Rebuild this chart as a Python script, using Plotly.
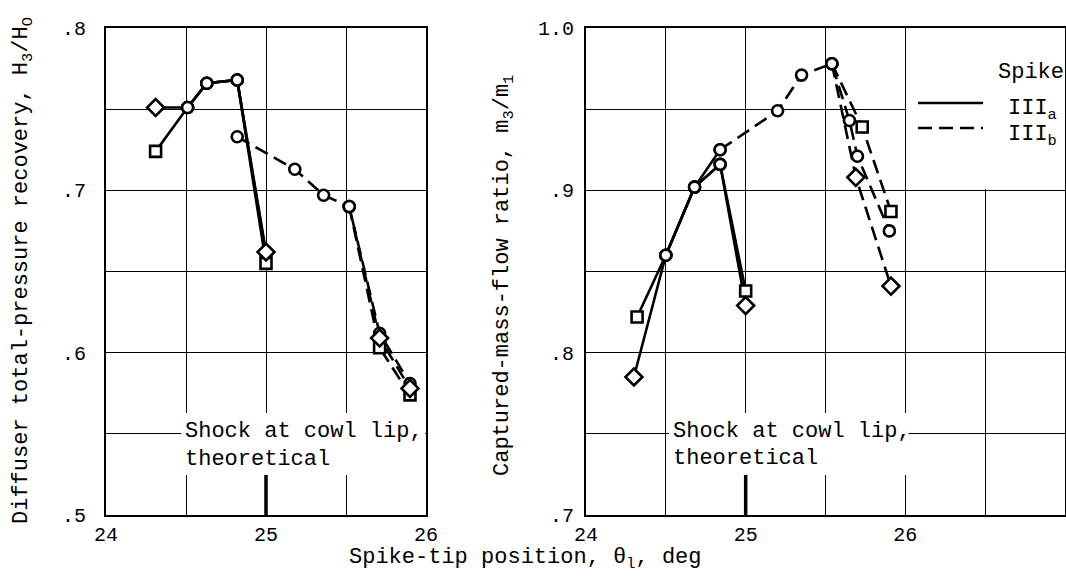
import plotly.graph_objects as go

# ---------------- data ----------------
# Left panel: diffuser total-pressure recovery H3/H0 vs spike-tip position
L_a_circ_x = [24.51, 24.63, 24.82, 25.00]
L_a_circ_y = [0.751, 0.766, 0.768, 0.660]
L_a_sq_x = [24.31, 24.51, 24.63, 24.82, 25.00]
L_a_sq_y = [0.724, 0.751, 0.766, 0.768, 0.655]
L_a_dia_x = [24.31, 24.51, 24.63, 24.82, 25.00]
L_a_dia_y = [0.751, 0.751, 0.766, 0.768, 0.662]

L_b_circ_x = [24.82, 25.18, 25.36, 25.52, 25.71, 25.90]
L_b_circ_y = [0.733, 0.713, 0.697, 0.690, 0.612, 0.581]
L_b_sq_x = [25.52, 25.71, 25.90]
L_b_sq_y = [0.690, 0.603, 0.574]
L_b_dia_x = [25.52, 25.71, 25.90]
L_b_dia_y = [0.690, 0.609, 0.578]

# Right panel: captured-mass-flow ratio m3/m1 vs spike-tip position
R_a_circ_x = [24.50, 24.68, 24.84]
R_a_circ_y = [0.860, 0.902, 0.925]
R_a_sq_x = [24.32, 24.50, 24.68, 24.84, 25.00]
R_a_sq_y = [0.822, 0.860, 0.902, 0.916, 0.838]
R_a_dia_x = [24.30, 24.50, 24.68, 24.84, 25.00]
R_a_dia_y = [0.785, 0.860, 0.902, 0.916, 0.829]

R_b_circ_x = [24.84, 25.20, 25.35, 25.54, 25.65, 25.70, 25.90]
R_b_circ_y = [0.925, 0.949, 0.971, 0.978, 0.943, 0.921, 0.875]
R_b_sq_x = [25.54, 25.73, 25.91]
R_b_sq_y = [0.978, 0.939, 0.887]
R_b_dia_x = [25.54, 25.69, 25.91]
R_b_dia_y = [0.978, 0.908, 0.841]

# tick labels
L_xticks = [24, 24.5, 25, 25.5, 26]
L_xtext = ["24", "", "25", "", "26"]
R_xticks = [24, 24.5, 25, 25.5, 26, 26.5, 27]
R_xtext = ["24", "", "25", "", "26", "", ""]
L_yticks = [0.5, 0.55, 0.6, 0.65, 0.7, 0.75, 0.8]
L_ytext = [".5", "", ".6", "", ".7", "", ".8"]
R_yticks = [0.7, 0.75, 0.8, 0.85, 0.9, 0.95, 1.0]
R_ytext = [".7", "", ".8", "", ".9", "", "1.0"]

THEORY_X = 25.0  # shock at cowl lip, theoretical

# ---------------- style ----------------
FONT = "Courier New, Liberation Mono, monospace"
W, H = 1066, 580
DASH = "14px,7px"
LW = 2.6


def px(xp):
    return xp / W


def py(yp):
    return 1 - yp / H


fig = go.Figure()

series = [
    # (x, y, symbols, dash, xaxis, yaxis)
    (L_a_circ_x, L_a_circ_y, ["circle"] * 4, "solid", "x", "y"),
    (L_a_sq_x, L_a_sq_y, ["square", "circle", "circle", "circle", "square"], "solid", "x", "y"),
    (L_a_dia_x, L_a_dia_y, ["diamond", "circle", "circle", "circle", "diamond"], "solid", "x", "y"),
    (L_b_circ_x, L_b_circ_y, ["circle"] * 6, DASH, "x", "y"),
    (L_b_sq_x, L_b_sq_y, ["circle", "square", "square"], DASH, "x", "y"),
    (L_b_dia_x, L_b_dia_y, ["circle", "diamond", "diamond"], DASH, "x", "y"),
    (R_a_circ_x, R_a_circ_y, ["circle"] * 3, "solid", "x2", "y2"),
    (R_a_sq_x, R_a_sq_y, ["square", "circle", "circle", "circle", "square"], "solid", "x2", "y2"),
    (R_a_dia_x, R_a_dia_y, ["diamond", "circle", "circle", "circle", "diamond"], "solid", "x2", "y2"),
    (R_b_circ_x, R_b_circ_y, ["circle"] * 7, DASH, "x2", "y2"),
    (R_b_sq_x, R_b_sq_y, ["circle", "square", "square"], DASH, "x2", "y2"),
    (R_b_dia_x, R_b_dia_y, ["circle", "diamond", "diamond"], DASH, "x2", "y2"),
]

# lines first
for xs, ys, syms, dash, xa, ya in series:
    fig.add_trace(go.Scatter(x=xs, y=ys, mode="lines", xaxis=xa, yaxis=ya,
                             line=dict(color="black", width=LW, dash=dash),
                             showlegend=False, hoverinfo="skip"))
# then markers (open, white-filled)
for xs, ys, syms, dash, xa, ya in series:
    sizes = [13 if s == "diamond" else 11 for s in syms]
    fig.add_trace(go.Scatter(x=xs, y=ys, mode="markers", xaxis=xa, yaxis=ya,
                             marker=dict(symbol=syms, size=sizes, color="white", opacity=1,
                                         line=dict(color="black", width=2.6)),
                             showlegend=False))

axis_common = dict(showgrid=True, gridcolor="black", gridwidth=1.2, zeroline=False,
                   showline=True, mirror=True, linecolor="black", linewidth=2,
                   automargin=False,
                   tickfont=dict(family=FONT, size=20, color="black"))

fig.update_layout(
    width=W, height=H,
    margin=dict(l=0, r=0, t=0, b=0, autoexpand=False),
    paper_bgcolor="white", plot_bgcolor="white",
    showlegend=False,
    xaxis=dict(domain=[px(106), px(426)], range=[24, 26], tickvals=L_xticks, ticktext=L_xtext,
               ticks="", anchor="y", **axis_common),
    yaxis=dict(domain=[py(515), py(28)], range=[0.5, 0.8], tickvals=L_yticks, ticktext=L_ytext,
               ticks="outside", ticklen=14, tickcolor="rgba(0,0,0,0)", anchor="x", **axis_common),
    xaxis2=dict(domain=[px(586), px(1065)], range=[24, 27], tickvals=R_xticks, ticktext=R_xtext,
                ticks="", anchor="y2", **axis_common),
    yaxis2=dict(domain=[py(515), py(28)], range=[0.7, 1.0], tickvals=R_yticks, ticktext=R_ytext,
                ticks="outside", ticklen=6, tickcolor="rgba(0,0,0,0)", anchor="x2", **axis_common),
)

shapes = []
# white masks over gridlines behind annotation text
shapes.append(dict(type="rect", xref="x", yref="y", x0=24.47, x1=25.995, y0=0.5247, y1=0.5629,
                   fillcolor="white", line=dict(width=0), layer="between"))
shapes.append(dict(type="rect", xref="x2", yref="y2", x0=24.52, x1=26.02, y0=0.7247, y1=0.7629,
                   fillcolor="white", line=dict(width=0), layer="between"))
# legend mask
shapes.append(dict(type="rect", xref="x2", yref="y2", x0=26.006, x1=27.0, y0=0.9008, y1=1.0,
                   fillcolor="white", line=dict(width=0), layer="between"))
# theoretical shock position markers
shapes.append(dict(type="line", xref="x", yref="y", x0=THEORY_X, x1=THEORY_X, y0=0.5, y1=0.5247,
                   line=dict(color="black", width=3.5)))
shapes.append(dict(type="line", xref="x2", yref="y2", x0=THEORY_X, x1=THEORY_X, y0=0.7, y1=0.7247,
                   line=dict(color="black", width=3.5)))
# legend lines
shapes.append(dict(type="line", xref="paper", yref="paper", x0=px(918), x1=px(983), y0=py(103), y1=py(103),
                   line=dict(color="black", width=LW)))
shapes.append(dict(type="line", xref="paper", yref="paper", x0=px(918), x1=px(983), y0=py(128), y1=py(128),
                   line=dict(color="black", width=LW, dash=DASH)))
fig.update_layout(shapes=shapes)

tf = dict(family=FONT, size=22, color="black")
ann = [
    dict(text="Diffuser total-pressure recovery, H<sub>3</sub>/H<sub>O</sub>", xref="paper", yref="paper",
         x=px(23), y=py(271), textangle=-90, showarrow=False, font=tf, xanchor="center", yanchor="middle"),
    dict(text="Captured-mass-flow ratio, m<sub>3</sub>/m<sub>1</sub>", xref="paper", yref="paper",
         x=px(504), y=py(276), textangle=-90, showarrow=False, font=tf, xanchor="center", yanchor="middle"),
    dict(text="Spike-tip position, θ<sub>l</sub>, deg", xref="paper", yref="paper",
         x=px(525), y=py(559), showarrow=False, font=tf, xanchor="center", yanchor="middle"),
    dict(text="Shock at cowl lip,", xref="x", yref="y", x=24.48, y=0.5512, showarrow=False, font=tf,
         xanchor="left", yanchor="middle"),
    dict(text="theoretical", xref="x", yref="y", x=24.48, y=0.5345, showarrow=False, font=tf,
         xanchor="left", yanchor="middle"),
    dict(text="Shock at cowl lip,", xref="x2", yref="y2", x=24.535, y=0.7512, showarrow=False, font=tf,
         xanchor="left", yanchor="middle"),
    dict(text="theoretical", xref="x2", yref="y2", x=24.535, y=0.7345, showarrow=False, font=tf,
         xanchor="left", yanchor="middle"),
    dict(text="Spike", xref="paper", yref="paper", x=px(1031), y=py(73), showarrow=False, font=tf,
         xanchor="center", yanchor="middle"),
    dict(text="III<sub>a</sub>", xref="paper", yref="paper", x=px(1006), y=py(110), showarrow=False, font=tf,
         xanchor="left", yanchor="middle"),
    dict(text="III<sub>b</sub>", xref="paper", yref="paper", x=px(1006), y=py(136), showarrow=False, font=tf,
         xanchor="left", yanchor="middle"),
]
fig.update_layout(annotations=ann)

fig.write_html("out.html", config={"displayModeBar": False},
               post_script="document.body.style.margin='0';document.body.style.overflow='hidden';")
